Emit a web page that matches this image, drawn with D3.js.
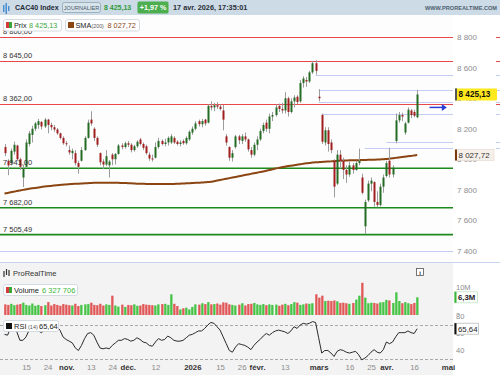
<!DOCTYPE html>
<html><head><meta charset="utf-8">
<script src="https://cdn.jsdelivr.net/npm/d3@7"></script>
<style>body{margin:0;background:#fff}svg{display:block;font-family:"Liberation Sans",Arial,sans-serif}</style>
</head><body>
<svg id="c" width="500" height="375"></svg>
<script>
// ---------- DATA ----------
// daily candles [open, high, low, close], 6 oct. 2025 -> 17 avr. 2026
const ohlc = [
[8080,8100,8020,8040],[7990,8000,7895,7960],[7975,8070,7960,8055],[8050,8115,8030,8095],[8090,8095,7990,8000],
[8000,8010,7930,7950],[7880,7960,7818,7940],[7950,8130,7945,8110],[8100,8185,8085,8170],[8160,8220,8110,8200],
[8200,8245,8185,8235],[8225,8265,8200,8250],[8245,8250,8195,8215],[8215,8270,8205,8260],[8260,8265,8170,8225],
[8225,8240,8190,8210],[8210,8225,8180,8195],[8195,8205,8160,8170],[8170,8175,8130,8140],[8140,8150,8095,8105],
[8105,8120,8085,8100],[8060,8090,8030,8045],[8040,8070,8000,8055],[8040,8060,7960,7975],[7975,7990,7905,7950],
[7990,8080,7985,8060],[8060,8150,8055,8140],[8140,8260,8135,8240],[8260,8315,8220,8235],[8200,8210,8120,8140],
[8140,8150,8080,8095],[8040,8045,7960,7980],[7985,8000,7935,7965],[7965,8060,7955,8020],[7960,7995,7880,7985],
[8030,8040,7960,8000],[8000,8040,7965,8035],[8035,8100,8030,8090],[8090,8105,8065,8080],[8080,8115,8070,8105],
[8105,8120,8080,8095],[8095,8105,8045,8060],[8060,8095,8050,8085],[8085,8125,8075,8115],[8130,8140,8090,8100],
[8100,8110,8060,8075],[8085,8095,8030,8040],[8030,8045,7990,8005],[8005,8030,7985,8000],[8010,8110,8005,8080],
[8080,8140,8070,8120],[8120,8130,8090,8100],[8100,8135,8085,8110],[8110,8150,8090,8140],[8110,8165,8100,8150],
[8140,8150,8100,8110],[8115,8125,8090,8100],[8100,8125,8085,8110],[8120,8130,8095,8105],[8105,8150,8095,8140],
[8130,8190,8120,8180],[8175,8215,8160,8200],[8200,8250,8190,8235],[8250,8260,8215,8230],[8230,8265,8210,8250],
[8260,8265,8220,8235],[8240,8360,8235,8350],[8350,8380,8320,8340],[8340,8370,8315,8355],[8355,8375,8330,8345],
[8345,8360,8320,8330],[8320,8355,8190,8260],[8150,8165,8090,8110],[8080,8085,7990,8010],[8010,8060,7985,8040],
[8080,8160,8070,8150],[8150,8160,8100,8125],[8120,8165,8100,8150],[8150,8175,8115,8130],[8130,8135,8050,8065],
[8060,8080,8010,8030],[8030,8110,8020,8095],[8095,8150,8060,8130],[8130,8200,8120,8185],[8185,8240,8170,8225],
[8240,8260,8180,8200],[8200,8300,8170,8280],[8280,8310,8250,8290],[8290,8360,8280,8340],[8350,8365,8310,8330],
[8330,8370,8300,8320],[8320,8440,8300,8400],[8400,8410,8280,8310],[8310,8400,8300,8380],[8380,8420,8340,8405],
[8410,8420,8360,8375],[8380,8520,8370,8500],[8500,8545,8470,8530],[8520,8540,8475,8510],[8510,8580,8500,8570],
[8570,8645,8560,8630],[8630,8650,8555,8580],[8410,8460,8380,8400],[8290,8300,8100,8115],[8110,8210,8090,8190],
[8190,8210,8050,8100],[8110,8130,8040,8060],[7990,8000,7750,7820],[7840,8060,7830,8030],[8030,8060,7940,7990],
[7990,8010,7870,7930],[7930,7960,7845,7900],[7900,7985,7885,7960],[7960,7975,7905,7930],[7930,7990,7925,7975],
[7975,8070,7960,7990],[7880,7905,7770,7780],[7560,7735,7510,7720],[7730,7860,7720,7840],[7840,7880,7790,7860],
[7850,7855,7690,7720],[7720,7790,7685,7700],[7700,7840,7690,7820],[7820,7900,7780,7880],[7890,7990,7880,7975],
[7990,8075,7880,7900],[7900,7960,7880,7945],[8120,8300,8105,8255],[8255,8310,8240,8290],[8290,8305,8250,8280],
[8175,8245,8160,8235],[8240,8340,8235,8325],[8320,8330,8270,8290],[8310,8325,8275,8285],[8275,8455,8270,8425.13]
];
const sma200 = [
7775,7779,7783,7787,7791,7795,7799,7803,7806,7809,7812,7815,7818,7821,7823,7825,7827,7829,7831,7833,
7835,7836,7838,7839,7840,7841,7842,7843,7844,7845,7845,7846,7846,7846,7846,7846,7845,7845,7844,7844,
7843,7842,7841,7840,7840,7839,7838,7838,7837,7837,7837,7837,7837,7837,7838,7838,7839,7840,7841,7842,
7843,7844,7845,7846,7847,7849,7850,7852,7856,7860,7864,7868,7872,7876,7880,7884,7888,7892,7896,7900,
7904,7908,7912,7916,7920,7924,7929,7934,7939,7943,7947,7951,7955,7958,7961,7964,7967,7970,7973,7976,
7978,7980,7981,7982,7984,7985,7986,7988,7989,7990,7991,7992,7993,7993,7994,7994,7995,7995,7996,7996,
7997,7998,7999,8000,8002,8004,8006,8009,8012,8014,8017,8020,8022,8025,8027.72
];
// volume, millions
const volumeM = [
3.8,3.6,4.0,3.5,3.7,3.9,4.4,3.6,3.4,4.1,3.3,3.6,3.2,3.5,4.6,3.4,3.9,3.6,3.3,3.9,
3.7,3.5,3.4,4.0,3.2,3.6,3.8,3.9,4.4,3.6,3.5,4.0,3.4,3.8,3.6,6.9,3.4,3.0,3.7,2.9,
3.6,3.5,3.8,3.3,3.4,3.9,3.7,3.6,3.5,3.4,3.8,3.9,4.0,3.6,7.4,4.0,3.2,2.0,2.4,2.6,
2.0,2.9,3.8,3.7,4.2,3.9,4.6,3.8,3.9,4.1,3.7,4.5,4.4,3.8,3.6,3.4,3.7,4.2,3.4,3.9,
4.0,4.3,3.8,3.6,3.9,3.5,3.8,3.6,3.7,3.3,3.7,4.0,3.5,3.9,4.6,4.4,3.6,3.8,4.1,4.0,
4.2,7.4,6.2,6.9,5.0,5.1,5.0,5.2,4.9,4.3,4.4,4.2,4.0,4.3,5.5,6.9,11.5,6.2,4.2,4.4,
4.3,4.1,4.5,4.6,5.4,5.2,4.3,8.1,5.0,4.2,4.6,4.2,3.9,4.3,6.33
];
const rsi14 = [
59,58,67,69,62,52,52,56,64,65,66,63,61,64,66,67,68,68,64,56,
53,51,49,43,40,46,54,60,61,58,50,43,42,43,42,46,49,52,52,54,
53,51,52,55,53,50,49,46,45,50,54,52,53,57,55,52,51,51,52,55,
58,59,61,63,63,66,70,73,72,68,64,56,48,40,38,44,48,47,46,44,
41,46,50,53,57,60,58,61,63,64,63,62,60,63,68,66,70,72,71,72,
74,73,55,37,40,40,37,33,39,41,40,38,37,38,39,35,29,31,34,38,
41,38,37,41,50,48,50,56,61,61,61,63,61,60,65.64
];
const tickIndex  = [7,14,20,28,35,40,49,61,70,77,82,91,102,112,119,124,133,144];
const tickLabels = ["15","24","nov.","13","24","déc.","12","2026","15","26","févr.","13","mars","16","25","avr.","16","mai"];
const monthLabels = ["nov.","déc.","2026","févr.","mars","avr.","mai"];
const resistance = [8800, 8645, 8362];
const support = [7941, 7682, 7505.49];
const zoneLevels = [8553, 8457, 8373, 8297, 8111, 8072, 7400];
const zoneStart  = [101, 102, 102, 103, 124, 117, 0];
const priceTicks = [7400,7600,7800,8000,8200,8400,8600,8800];
const rsiTicks = [40,60,80];
const volTicks = [0,10];
const lastPrice = 8425.13, lastSma = 8027.72, lastVolume = 6327706, lastRsi = 65.64, changePct = 1.97;

// ---------- SETUP ----------
const svg = d3.select("#c");
const PR = 453;
const FONT = "Liberation Sans, Arial, sans-serif";
const loc = d3.formatLocale({decimal:",", thousands:" ", grouping:[3], currency:["","€"]});
const f0 = loc.format(",.0f"), f2 = loc.format(",.2f");
const x  = d3.scaleLinear().domain([0,144]).range([4.5,448]);
const y  = d3.scaleLinear().domain([7400,8800]).range([250.7,37.3]);
const yv = d3.scaleLinear().domain([0,10]).range([315,287]);
const yr = d3.scaleLinear().domain([30,70]).range([359,325]);
const idx = d3.range(ohlc.length);

svg.append("rect").attr("width",500).attr("height",375).attr("fill","#fff");
svg.append("rect").attr("x",0).attr("y",15).attr("width",PR).attr("height",247).attr("fill","#fdfdfd");
svg.append("rect").attr("x",0).attr("y",262).attr("width",PR).attr("height",113).attr("fill","#f3f3f3");
svg.append("line").attr("x1",0).attr("x2",500).attr("y1",262.5).attr("y2",262.5).attr("stroke","#c6d2f0");

const defs = svg.append("defs");
defs.append("clipPath").attr("id","mainclip").append("rect").attr("x",0).attr("y",15).attr("width",PR).attr("height",247);
defs.append("clipPath").attr("id","volclip").append("rect").attr("x",440).attr("y",263).attr("width",60).attr("height",51.5);
const main = svg.append("g").attr("clip-path","url(#mainclip)");

// zone lines (light blue)
main.selectAll(".zone").data(zoneLevels).join("line")
  .attr("x1",(d,i)=>zoneStart[i]===0?0:x(zoneStart[i])).attr("x2",PR)
  .attr("y1",d=>Math.round(y(d))+0.5).attr("y2",d=>Math.round(y(d))+0.5)
  .attr("stroke","#c3ccf2").attr("stroke-width",1);
// resistance / support
main.selectAll(".res").data(resistance).join("line")
  .attr("x1",0).attr("x2",PR).attr("y1",d=>Math.round(y(d))+0.5).attr("y2",d=>Math.round(y(d))+0.5)
  .attr("stroke","#e8484a").attr("stroke-width",1);
main.selectAll(".sup").data(support).join("line")
  .attr("x1",0).attr("x2",PR).attr("y1",d=>y(d)).attr("y2",d=>y(d))
  .attr("stroke","#1c8a1c").attr("stroke-width",1.6);
// right edge ticks
svg.selectAll(".edge").data(resistance.concat(zoneLevels.slice(0,6))).join("line")
  .attr("x1",496).attr("x2",500).attr("y1",d=>Math.round(y(d))+0.5).attr("y2",d=>Math.round(y(d))+0.5)
  .attr("stroke",(d,i)=>i<3?"#e8484a":"#c3ccf2");

// SMA
main.append("path").datum(idx)
  .attr("d", d3.line().x(i=>x(i)).y(i=>y(sma200[i])).curve(d3.curveMonotoneX))
  .attr("fill","none").attr("stroke","#8a4512").attr("stroke-width",2);

// candles
const cg = main.append("g");
cg.selectAll(".wick").data(idx).join("line")
  .attr("x1",i=>Math.round(x(i))+0.5).attr("x2",i=>Math.round(x(i))+0.5)
  .attr("y1",i=>y(ohlc[i][1])).attr("y2",i=>y(ohlc[i][2]))
  .attr("stroke","#9c9c9c").attr("stroke-width",1);
cg.selectAll(".body").data(idx).join("rect")
  .attr("x",i=>Math.round(x(i))-0.5).attr("width",2)
  .attr("y",i=>y(Math.max(ohlc[i][0],ohlc[i][3])))
  .attr("height",i=>Math.max(1,Math.abs(y(ohlc[i][0])-y(ohlc[i][3]))))
  .attr("fill",i=>ohlc[i][3]>=ohlc[i][0]?"#246c24":"#a11e1e");

// left level labels
svg.selectAll(".lvl").data(resistance.concat(support)).join("text")
  .attr("x",3).attr("y",d=>y(d)-3).attr("font-size",7.5).attr("fill","#333")
  .text(d=>f2(d));

// arrow
svg.append("line").attr("x1",x(138)).attr("x2",x(142.3)).attr("y1",y(8340)).attr("y2",y(8340))
  .attr("stroke","#2b3fd6").attr("stroke-width",1.5);
svg.append("path").attr("d",`M${x(142)},${y(8340)-3.5}L${x(142)+5},${y(8340)}L${x(142)},${y(8340)+3.5}Z`).attr("fill","#2b3fd6");

// price axis
const pax = svg.append("g").attr("transform",`translate(455,0)`)
  .call(d3.axisRight(y).tickValues(priceTicks).tickSize(0).tickPadding(2).tickFormat(f0));
pax.select(".domain").remove();
pax.selectAll("text").attr("font-size",8).attr("fill","#8c8c8c").attr("font-family",FONT);

// last price label
const yl = y(lastPrice);
svg.append("rect").attr("x",455).attr("y",yl-6).attr("width",42).attr("height",12).attr("fill","#ffe81c").attr("rx",1);
svg.append("rect").attr("x",455).attr("y",yl-6).attr("width",2).attr("height",12).attr("fill","#555");
svg.append("text").attr("x",458.5).attr("y",yl+3).attr("font-size",8.2).attr("font-weight","bold").attr("fill","#111").text(f2(lastPrice));
const ys = y(lastSma);
svg.append("rect").attr("x",455).attr("y",ys-5.5).attr("width",39).attr("height",11).attr("fill","#f7efe9").attr("stroke","#e4d6cc").attr("stroke-width",0.6);
svg.append("rect").attr("x",455).attr("y",ys-5.5).attr("width",2).attr("height",11).attr("fill","#7a3a10");
svg.append("text").attr("x",458.5).attr("y",ys+3).attr("font-size",8).attr("fill","#333").text(f2(lastSma));

// header
svg.append("rect").attr("width",500).attr("height",15).attr("fill","#cddbe6");
[[3,5,9],[5.5,3,11],[8,6,8]].forEach(b=>svg.append("rect").attr("x",b[0]).attr("y",b[1]).attr("width",1.5).attr("height",b[2]-b[1]+3).attr("fill","#4a90d0"));
svg.append("text").attr("x",15).attr("y",10.3).attr("font-size",7.1).attr("font-weight","bold").attr("fill","#1e2a36").text("CAC40 Index");
svg.append("rect").attr("x",62.5).attr("y",2.5).attr("width",38).attr("height",10).attr("rx",2).attr("fill","#d8e4ec").attr("stroke","#8fa3b3").attr("stroke-width",0.8);
svg.append("text").attr("x",81.5).attr("y",10).attr("text-anchor","middle").attr("font-size",5.6).attr("fill","#4a5a68").text("JOURNALIER");
svg.append("text").attr("x",104).attr("y",10.3).attr("font-size",7).attr("font-weight","bold").attr("fill","#2f9a3a").text(f2(lastPrice));
svg.append("rect").attr("x",137.5).attr("y",1.5).attr("width",31).attr("height",12).attr("rx",1.5).attr("fill","#4cae4f");
svg.append("text").attr("x",153).attr("y",10.3).attr("text-anchor","middle").attr("font-size",7.2).attr("font-weight","bold").attr("fill","#fff").text("+"+loc.format(".2f")(changePct)+" %");
svg.append("text").attr("x",173).attr("y",10.3).attr("font-size",7.3).attr("font-weight","bold").attr("fill","#2a2f36").text("17 avr. 2026, 17:35:01");
svg.append("text").attr("x",497).attr("y",10).attr("text-anchor","end").attr("font-size",5.6).attr("font-weight","bold").attr("fill","#4d6070").text("WWW.PROREALTIME.COM");

// legend main
function box(x0,y0,w,h){svg.append("rect").attr("x",x0).attr("y",y0).attr("width",w).attr("height",h).attr("rx",2).attr("fill","#fff").attr("stroke","#c9d3da").attr("stroke-width",0.8);}
box(3.5,19.5,58,11.5);
svg.append("rect").attr("x",6).attr("y",22).attr("width",3).attr("height",6).attr("fill","#d63a3a");
svg.append("rect").attr("x",9).attr("y",22).attr("width",3).attr("height",6).attr("fill","#3aa63a");
svg.append("text").attr("x",14).attr("y",28.2).attr("font-size",7.3).attr("fill","#222").text("Prix");
svg.append("text").attr("x",29).attr("y",28.2).attr("font-size",7.3).attr("fill","#3aa63a").text(f2(lastPrice));
box(65.5,19.5,74,11.5);
svg.append("rect").attr("x",68).attr("y",22).attr("width",6).attr("height",6).attr("fill","#8a4512");
svg.append("text").attr("x",75.5).attr("y",28.2).attr("font-size",7.3).attr("fill","#222").text("SMA");
svg.append("text").attr("x",91.5).attr("y",28.2).attr("font-size",5.3).attr("fill","#555").text("(200)");
svg.append("text").attr("x",107.5).attr("y",28.2).attr("font-size",7.3).attr("fill","#8a4512").text(f2(lastSma));

// lower panel header
svg.append("path").attr("d","M4,271v6M6.5,269v6M9,270v6").attr("stroke","#333").attr("stroke-width",1.2);
svg.append("text").attr("x",13).attr("y",276).attr("font-size",7.5).attr("fill","#333").text("ProRealTime");
svg.append("rect").attr("x",416.5).attr("y",268.5).attr("width",7).attr("height",7).attr("fill","#fff").attr("stroke","#555").attr("stroke-width",0.8);
svg.append("text").attr("x",420).attr("y",274.5).attr("text-anchor","middle").attr("font-size",6).attr("font-weight","bold").attr("fill","#333").text("i");

// volume
svg.append("g").selectAll("rect").data(idx).join("rect")
  .attr("x",i=>Math.round(x(i))-0.8).attr("width",2.3)
  .attr("y",i=>yv(volumeM[i])).attr("height",i=>yv(0)-yv(volumeM[i]))
  .attr("fill",i=>ohlc[i][3]>=ohlc[i][0]?"#46c446":"#e05858");
const vax = svg.append("g").attr("clip-path","url(#volclip)").append("g").attr("transform","translate(455,0)")
  .call(d3.axisRight(yv).tickValues(volTicks).tickSize(0).tickPadding(1).tickFormat(d=>d===0?"0":d+"M"));
vax.select(".domain").remove();
vax.selectAll("text").attr("font-size",7.5).attr("fill","#8c8c8c").attr("font-family",FONT);
const yvl = yv(lastVolume/1e6);
svg.append("rect").attr("x",454.5).attr("y",yvl-5.5).attr("width",23).attr("height",11).attr("fill","#fff").attr("stroke","#bfe5bf").attr("stroke-width",0.8);
svg.append("rect").attr("x",454.5).attr("y",yvl-5.5).attr("width",2).attr("height",11).attr("fill","#3ab53a");
svg.append("text").attr("x",458).attr("y",yvl+3).attr("font-size",7.8).attr("font-weight","bold").attr("fill","#222").text(loc.format(".1f")(lastVolume/1e6)+"M");
box(3.5,284.5,74,11);
svg.append("rect").attr("x",6).attr("y",287).attr("width",3).attr("height",6).attr("fill","#d63a3a");
svg.append("rect").attr("x",9).attr("y",287).attr("width",3).attr("height",6).attr("fill","#3aa63a");
svg.append("text").attr("x",14).attr("y",293).attr("font-size",7.5).attr("fill","#222").text("Volume");
svg.append("text").attr("x",42).attr("y",293).attr("font-size",7.5).attr("fill","#3bb83b").text(f0(lastVolume));

// RSI
svg.selectAll(".rl").data([70,30]).join("line")
  .attr("x1",0).attr("x2",PR).attr("y1",d=>Math.round(yr(d))+0.5).attr("y2",d=>Math.round(yr(d))+0.5)
  .attr("stroke","#a8a8a8").attr("stroke-dasharray","3,2");
svg.append("path").datum(idx)
  .attr("d",d3.line().x(i=>x(i)).y(i=>yr(rsi14[i])))
  .attr("fill","none").attr("stroke","#2a2a2a").attr("stroke-width",1);
const rax = svg.append("g").attr("transform","translate(455,0)")
  .call(d3.axisRight(yr).tickValues(rsiTicks).tickSize(0).tickPadding(1));
rax.select(".domain").remove();
rax.selectAll("text").attr("font-size",7.5).attr("fill","#8c8c8c").attr("font-family",FONT);
const yrl = yr(lastRsi);
svg.append("rect").attr("x",454.5).attr("y",yrl-5.5).attr("width",24).attr("height",11).attr("fill","#fff").attr("stroke","#bbb").attr("stroke-width",0.8);
svg.append("rect").attr("x",454.5).attr("y",yrl-5.5).attr("width",2).attr("height",11).attr("fill","#111");
svg.append("text").attr("x",458).attr("y",yrl+3).attr("font-size",7.8).attr("fill","#222").text(loc.format(".2f")(lastRsi));
box(3.5,320.5,55,11);
svg.append("rect").attr("x",6).attr("y",323).attr("width",6).attr("height",6).attr("fill","#111");
svg.append("text").attr("x",14).attr("y",329).attr("font-size",7.5).attr("fill","#222").text("RSI");
svg.append("text").attr("x",28).attr("y",329).attr("font-size",5.5).attr("fill","#555").text("(14)");
svg.append("text").attr("x",39).attr("y",329).attr("font-size",7.5).attr("fill","#222").text(loc.format(".2f")(lastRsi));

// x axis
const xax = svg.append("g").attr("transform","translate(0,364)")
  .call(d3.axisBottom(x).tickValues(tickIndex).tickSize(0).tickPadding(0).tickFormat((d,i)=>tickLabels[i]));
xax.select(".domain").remove();
xax.selectAll("text").attr("dy","0.71em").attr("font-size",7.8).attr("font-family",FONT)
  .attr("fill",(d,i)=>monthLabels.includes(tickLabels[i])?"#333":"#8c8c8c")
  .attr("font-weight",(d,i)=>monthLabels.includes(tickLabels[i])?"bold":"normal");
</script>
</body></html>
